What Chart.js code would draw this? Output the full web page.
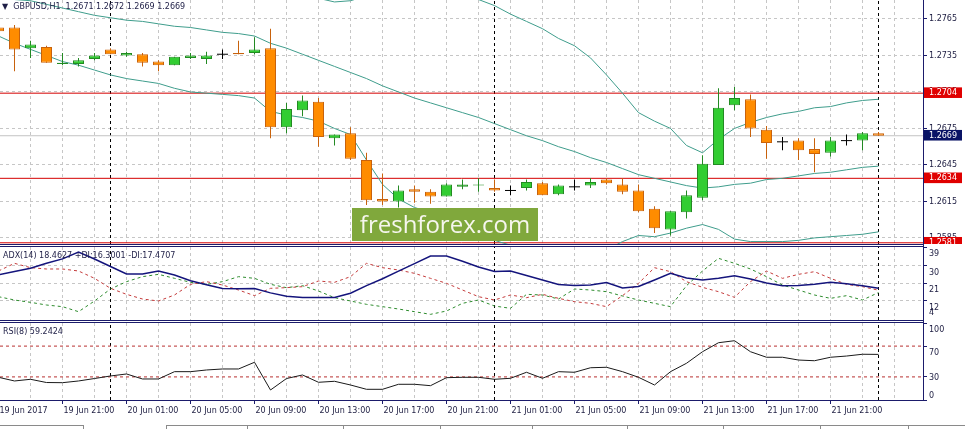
<!DOCTYPE html>
<html><head><meta charset="utf-8"><title>GBPUSD H1</title>
<script src="https://cdn.jsdelivr.net/npm/chart.js@4.4.1/dist/chart.umd.min.js"></script>
<style>
html,body{margin:0;padding:0;background:#fff;overflow:hidden;}
#wrap{position:relative;width:965px;height:429px;background:#fff;font-family:"DejaVu Sans",sans-serif;}
#wrap canvas{position:absolute;left:0;}
.ln{position:absolute;background:#1b1b6b;}
.cap{position:absolute;font-size:8px;line-height:10px;color:#1e1e46;white-space:pre;}
#wm{position:absolute;left:352px;top:208px;width:186px;height:33px;background:#80a83c;color:#f6f6ee;font-family:"Open Sans",sans-serif;font-size:24px;line-height:32px;text-align:center;}
.tab{position:absolute;top:425px;height:8px;border-top:1px solid #8a8a8a;}
.tdiv{position:absolute;top:425px;width:1px;height:6px;background:#8a8a8a;}
</style></head><body>
<div id="wrap">
<canvas id="cMain" width="965" height="244" style="top:0"></canvas>
<canvas id="cAdx" width="965" height="73" style="top:247px"></canvas>
<canvas id="cRsi" width="965" height="106" style="top:323px"></canvas>
<div class="ln" style="left:0;top:244px;width:924px;height:1px"></div>
<div class="ln" style="left:0;top:246px;width:924px;height:1px"></div>
<div class="ln" style="left:0;top:320px;width:924px;height:1px"></div>
<div class="ln" style="left:0;top:322px;width:924px;height:1px"></div>
<div class="ln" style="left:0;top:400px;width:924px;height:1px"></div>
<div class="ln" style="left:923px;top:0;width:1px;height:401px"></div>
<div id="wm">freshforex.com</div>
<div class="cap" id="tMain" style="left:2px;top:2px"></div>
<div class="cap" id="tAdx" style="left:3px;top:251px"></div>
<div class="cap" id="tRsi" style="left:3px;top:327px"></div>
<div class="tab" style="left:0;width:83px;border-right:1px solid #8a8a8a"></div>
<div class="tab" style="left:166px;width:799px;border-left:1px solid #8a8a8a"></div>
<div class="tdiv" style="left:247px"></div><div class="tdiv" style="left:343px"></div>
<div class="tdiv" style="left:440px"></div><div class="tdiv" style="left:532px"></div>
<div class="tdiv" style="left:627px"></div><div class="tdiv" style="left:723px"></div>
<div class="tdiv" style="left:820px"></div><div class="tdiv" style="left:908px"></div>
</div>
<script>
// ---------------- DATA (H1 bars, first bar 19 Jun 2017 17:00) ----------------
const opens  = [1.2758,1.2758,1.2741,1.2742,1.2728,1.2728,1.2732,1.2740,1.2735,1.2736,1.2730,1.2727,1.2733,1.2732,1.2736,1.2737,1.2737,1.2741,1.2676,1.2690,1.2697,1.2667,1.2671,1.2649,1.2617,1.2615,1.2625,1.2623,1.2619,1.2627,1.2628,1.2626,1.2624,1.2626,1.2630,1.2621,1.2627,1.2628,1.2633,1.2629,1.2624,1.2609,1.2592,1.2606,1.2618,1.2645,1.2694,1.2699,1.2674,1.2664,1.2665,1.2658,1.2655,1.2665,1.2665,1.2671];
const highs  = [1.2760,1.2760,1.2747,1.2743,1.2737,1.2733,1.2737,1.2741,1.2738,1.2737,1.2731,1.2734,1.2737,1.2738,1.2740,1.2747,1.2750,1.2757,1.2696,1.2702,1.2700,1.2670,1.2676,1.2655,1.2638,1.2628,1.2628,1.2625,1.2630,1.2633,1.2634,1.2633,1.2628,1.2633,1.2631,1.2629,1.2633,1.2634,1.2634,1.2634,1.2629,1.2611,1.2607,1.2624,1.2653,1.2708,1.2709,1.2703,1.2677,1.2668,1.2667,1.2667,1.2668,1.2670,1.2672,1.2672];
const lows   = [1.2754,1.2722,1.2733,1.2729,1.2727,1.2726,1.2731,1.2736,1.2734,1.2726,1.2722,1.2727,1.2732,1.2728,1.2732,1.2736,1.2736,1.2667,1.2671,1.2685,1.2660,1.2661,1.2649,1.2612,1.2612,1.2610,1.2614,1.2613,1.2619,1.2625,1.2623,1.2623,1.2620,1.2624,1.2620,1.2620,1.2624,1.2626,1.2629,1.2621,1.2606,1.2589,1.2587,1.2601,1.2616,1.2645,1.2690,1.2668,1.2650,1.2657,1.2649,1.2639,1.2652,1.2661,1.2657,1.2669];
const closes = [1.2755,1.2740,1.2744,1.2729,1.2729,1.2731,1.2735,1.2736,1.2737,1.2729,1.2727,1.2734,1.2735,1.2735,1.2736,1.2736,1.2740,1.2676,1.2691,1.2698,1.2668,1.2670,1.2650,1.2616,1.2615,1.2624,1.2623,1.2619,1.2629,1.2629,1.2629,1.2624,1.2624,1.2631,1.2620,1.2628,1.2627,1.2631,1.2630,1.2623,1.2607,1.2593,1.2607,1.2620,1.2646,1.2692,1.2700,1.2675,1.2663,1.2664,1.2657,1.2654,1.2665,1.2665,1.2671,1.2669];

const bbUpper  = [1.2815,1.2818,1.2820,1.2818,1.2818,1.2814,1.2814,1.2813,1.2812,1.2811,1.2810,1.2810,1.2810,1.2808,1.2806,1.2804,1.2802,1.2802,1.2796,1.2788,1.2782,1.2779,1.2780,1.2784,1.2789,1.2793,1.2790,1.2787,1.2785,1.2783,1.2781,1.2776,1.2769,1.2763,1.2757,1.2749,1.2743,1.2733,1.2719,1.2704,1.2688,1.2681,1.2675,1.2661,1.2655,1.2666,1.2675,1.2680,1.2684,1.2687,1.2689,1.2692,1.2693,1.2696,1.2698,1.2699];
const bbMiddle = [1.2783,1.2781,1.2780,1.2777,1.2774,1.2771,1.2768,1.2766,1.2764,1.2763,1.2761,1.2759,1.2758,1.2756,1.2754,1.2753,1.2751,1.2745,1.2741,1.2736,1.2731,1.2726,1.2721,1.2716,1.2710,1.2705,1.2700,1.2696,1.2692,1.2688,1.2684,1.2679,1.2674,1.2669,1.2665,1.2660,1.2656,1.2651,1.2647,1.2642,1.2637,1.2634,1.2631,1.2628,1.2626,1.2627,1.2629,1.2630,1.2633,1.2634,1.2636,1.2638,1.2639,1.2641,1.2643,1.2644];
const bbLower  = [1.2751,1.2745,1.2740,1.2735,1.2730,1.2727,1.2723,1.2719,1.2716,1.2714,1.2712,1.2708,1.2705,1.2704,1.2703,1.2702,1.2700,1.2689,1.2686,1.2684,1.2681,1.2675,1.2670,1.2649,1.2629,1.2617,1.2610,1.2606,1.2600,1.2595,1.2588,1.2583,1.2579,1.2575,1.2572,1.2569,1.2569,1.2571,1.2575,1.2582,1.2587,1.2586,1.2589,1.2593,1.2596,1.2592,1.2584,1.2582,1.2582,1.2582,1.2583,1.2585,1.2586,1.2587,1.2588,1.2590];

const adxMain = [25.37,27.00,28.63,31.17,33.40,36.90,33.35,29.54,25.73,25.68,27.20,25.20,22.27,20.24,18.36,18.20,18.36,16.12,14.39,13.83,13.73,13.73,15.92,19.83,23.29,27.15,31.00,34.90,34.90,32.20,29.30,26.95,27.25,24.97,22.68,20.44,19.83,20.14,21.40,18.60,19.37,22.68,26.08,23.69,22.73,23.59,24.86,23.14,21.10,19.78,19.83,20.54,21.50,20.75,19.78,18.4627];
const plusDI  = [14.20,12.50,11.32,9.96,9.12,6.57,12.00,18.10,21.83,24.37,25.55,23.52,21.49,20.47,21.83,24.37,23.52,20.47,18.78,19.79,17.08,13.69,12.00,10.30,9.12,7.93,6.57,5.22,6.91,10.81,12.50,9.45,8.27,15.39,15.05,13.01,18.10,17.59,16.74,14.54,12.50,10.81,9.12,19.79,27.25,33.69,31.15,28.27,24.37,20.13,17.59,15.05,13.35,14.71,12.50,16.3001];
const minusDI = [27.25,31.15,28.94,28.27,28.27,27.25,23.52,18.44,15.39,13.01,12.00,15.05,20.47,21.83,20.13,17.59,14.71,18.44,18.78,19.28,22.17,21.49,24.37,31.15,28.94,27.76,26.06,23.52,20.98,17.59,14.20,12.50,15.05,13.69,15.39,13.35,11.66,10.81,9.12,14.71,20.98,28.94,26.91,21.83,18.94,16.74,13.86,21.83,27.25,23.52,25.55,26.91,23.52,20.47,19.28,17.4707];
const rsi8    = [29.5,24.7,26.9,22.7,22.5,24.7,27.9,31.2,33.8,27.3,27.3,36.8,36.8,39.0,40.3,40.3,49.0,13.0,27.9,32.5,23.0,24.3,19.5,13.9,13.9,20.4,20.4,18.6,29.0,29.5,29.5,26.9,28.2,36.0,28.2,36.8,36.0,41.9,42.5,36.8,29.5,19.5,36.8,47.7,62.7,74.4,77.0,62.7,55.5,55.5,51.9,51.0,55.5,57.1,59.4,59.2424];

const priceTicks = [1.2585,1.2615,1.2645,1.2675,1.2705,1.2735,1.2765];
const redLevels  = [1.2704,1.2634,1.2581];
const adxTicks   = [39,30,21,12,4];
const rsiTicks   = [100,70,30,0];
const rsiLevels  = [70,30];
const firstBar   = {day:19, hour:17};

// ---------------- LAYOUT / STYLE ----------------
const X_MIN = 0.09375, X_MAX = 57.78125;
const P_MIN = 1.2580,  P_MAX = 1.27806;
const ADX_MIN = 2.34,  ADX_MAX = 39.45;
const FONT = {family:'"DejaVu Sans", sans-serif', size:8};
const AXIS = '#1b1b6b', TXT = '#1c1c40', GRID = '#c6c6c6', NONE = 'rgba(0,0,0,0)';
const BULL_FILL = '#32cd32', BULL_EDGE = '#238a23', BEAR_FILL = '#ff8c00', BEAR_EDGE = '#c8620c', BAND = '#3f9d8c';
Chart.defaults.font.family = FONT.family; Chart.defaults.font.size = 8; Chart.defaults.color = TXT;

const barTimes = opens.map((_, k) => { const h = firstBar.hour + k; return {day: firstBar.day + Math.floor(h / 24), hour: h % 24}; });
function timeLabel(k) {
  if (k < 0 || k >= barTimes.length || k % 1) return '';
  if (k === 0) return firstBar.day + ' Jun 2017';
  const t = barTimes[k];
  return (t.hour % 4 === 1) ? t.day + ' Jun ' + String(t.hour).padStart(2, '0') + ':00' : '';
}
function zeroPad(s) { s.paddingLeft = 0; s.paddingRight = 0; s.paddingTop = 0; s.paddingBottom = 0; }
function separators(lo, hi) {
  const d = [];
  barTimes.forEach((t, k) => { if (t.hour === 0) d.push({x:k, y:lo}, {x:k, y:hi}, {x:k, y:null}); });
  return {type:'line', data:d, borderColor:'#000', borderWidth:1, borderDash:[3,3], pointRadius:0, order:20};
}
function series(arr, color, width, dash, order) {
  return {type:'line', data: arr.map((v, k) => ({x:k, y:v})), borderColor:color, borderWidth:width, borderDash:dash || [], pointRadius:0, tension:0, order:order};
}
function hLine(v, color, dash, order) {
  return {type:'line', data:[{x:X_MIN, y:v}, {x:X_MAX, y:v}], borderColor:color, borderWidth:1, borderDash:dash || [], pointRadius:0, order:order};
}
function xScale(showLabels) {
  return {
    type:'linear', min:X_MIN, max:X_MAX, offset:false, bounds:'data',
    afterBuildTicks: s => { const t = []; for (let k = 0; k <= X_MAX; k += 2) t.push({value:k}); s.ticks = t; },
    afterFit: s => { s.height = showLabels ? 29 : 0; zeroPad(s); },
    ticks: {display:showLabels, autoSkip:false, maxRotation:0, minRotation:0, align:'start', labelOffset:1, padding:2, font:FONT, color:TXT, callback: v => timeLabel(v)},
    grid: {display:true, offset:false, color:GRID, lineWidth:1, drawTicks:showLabels, tickLength:4, tickWidth:1,
           tickColor: c => (c.tick && timeLabel(c.tick.value)) ? AXIS : NONE},
    border: {display:false, dash:[3,3]}
  };
}
// per-label vertical placement of indicator-window axis labels (MetaTrader style)
const baselinePlugin = {
  id:'baselines',
  beforeDraw(chart, args, opts) {
    if (!opts || !opts.list) return;
    const items = chart.scales.y.getLabelItems(chart.chartArea);
    items.forEach((it, i) => {
      if (opts.list[i]) it.options.textBaseline = opts.list[i];
      if (opts.shift && opts.shift[i] && !it._shifted) { it.options.translation[1] += opts.shift[i]; it._shifted = true; }
    });
  }
};
const common = {responsive:false, animation:false, events:[], devicePixelRatio:1, layout:{padding:0, autoPadding:false}};

// ---------------- MAIN PRICE PANEL ----------------
const bodyIdx = opens.map((o, k) => k).filter(k => opens[k] !== closes[k]);
const dojiIdx = opens.map((o, k) => k).filter(k => opens[k] === closes[k]);
const isBull = k => closes[k] > opens[k];
const edgeOf = k => closes[k] > opens[k] ? BULL_EDGE : (closes[k] < opens[k] ? BEAR_EDGE : '#000');
const specials = redLevels.concat([closes[closes.length - 1]]);
const specialColors = redLevels.map(() => '#e00000').concat(['#0a1466']);
const nP = priceTicks.length;

new Chart(document.getElementById('cMain'), {
  type:'line',
  data:{datasets:[
    {type:'bar', data: bodyIdx.map(k => ({x:k, y:[opens[k], closes[k]]})), grouped:false, barThickness:11, inflateAmount:0,
     backgroundColor: bodyIdx.map(k => isBull(k) ? BULL_FILL : BEAR_FILL), borderColor: bodyIdx.map(edgeOf), borderWidth:1, borderSkipped:false, order:0},
    {type:'line', data: dojiIdx.map(k => ({x:k, y:opens[k]})), showLine:false, pointStyle:'line', pointRadius:5.5,
     pointBorderColor:'#000', pointBorderWidth:1, order:1},
    {type:'bar', data: opens.map((o, k) => ({x:k, y:[lows[k], highs[k]]})), grouped:false, barThickness:1, inflateAmount:0,
     backgroundColor: opens.map((o, k) => edgeOf(k)), borderWidth:0, order:2},
    series(bbUpper, BAND, 1, null, 5), series(bbMiddle, BAND, 1, null, 5), series(bbLower, BAND, 1, null, 5),
    ...redLevels.map(v => hLine(v, '#d40000', null, 6)),
    hLine(closes[closes.length - 1], '#c4c4c4', null, 7),
    separators(P_MIN, P_MAX)
  ]},
  options:{...common,
    plugins:{legend:{display:false}, tooltip:{enabled:false}},
    scales:{
      x: xScale(false),
      y: {position:'right', min:P_MIN, max:P_MAX, bounds:'data',
        afterBuildTicks: s => { s.ticks = priceTicks.concat(specials).map(v => ({value:v})); },
        afterFit: s => { s.width = 42; zeroPad(s); },
        ticks:{autoSkip:false, padding:2, font:FONT,
          color: c => c.index >= nP ? '#ffffff' : TXT,
          showLabelBackdrop: c => c.index >= nP,
          backdropColor: c => c.index >= nP ? specialColors[c.index - nP] : NONE,
          backdropPadding:{top:1, bottom:0, left:5, right:5},
          callback: v => Number(v).toFixed(4)},
        grid:{color: c => c.index >= nP ? NONE : GRID, drawTicks:true, tickLength:4, tickColor:AXIS},
        border:{display:false, dash:[3,3]}}
    }
  }
});

// ---------------- ADX PANEL ----------------
new Chart(document.getElementById('cAdx'), {
  type:'line',
  plugins:[baselinePlugin],
  data:{datasets:[
    series(adxMain, '#14147c', 1.5, null, 0),
    series(minusDI, '#c43c3c', 1, [3,3], 1),
    series(plusDI, '#2e8c2e', 1, [3,3], 2),
    separators(ADX_MIN, ADX_MAX)
  ]},
  options:{...common,
    plugins:{legend:{display:false}, tooltip:{enabled:false},
      baselines:{list:['top','top','top','top','bottom'], shift:[2,3,3,3,0]}},
    scales:{
      x: xScale(false),
      y: {position:'right', min:ADX_MIN, max:ADX_MAX, bounds:'data',
        afterBuildTicks: s => { s.ticks = adxTicks.map(v => ({value:v})); },
        afterFit: s => { s.width = 42; zeroPad(s); },
        ticks:{autoSkip:false, padding:2, font:FONT, color:TXT, callback: v => String(v)},
        grid:{color: c => (c.index === 0 || c.index === adxTicks.length - 1) ? NONE : GRID, drawTicks:true, tickLength:4,
              tickColor: c => c.index === adxTicks.length - 1 ? NONE : AXIS},
        border:{display:false, dash:[3,3]}}
    }
  }
});

// ---------------- RSI PANEL ----------------
new Chart(document.getElementById('cRsi'), {
  type:'line',
  plugins:[baselinePlugin],
  data:{datasets:[
    series(rsi8, '#1a1a1a', 1, null, 0),
    ...rsiLevels.map(v => hLine(v, '#b83030', [3,3], 1)),
    separators(0, 100)
  ]},
  options:{...common,
    plugins:{legend:{display:false}, tooltip:{enabled:false},
      baselines:{list:['top','top','middle','bottom'], shift:[3,3,1,0]}},
    scales:{
      x: xScale(true),
      y: {position:'right', min:0, max:100, bounds:'data',
        afterBuildTicks: s => { s.ticks = rsiTicks.map(v => ({value:v})); },
        afterFit: s => { s.width = 42; zeroPad(s); },
        ticks:{autoSkip:false, padding:2, font:FONT, color:TXT, callback: v => String(v)},
        grid:{drawOnChartArea:false, drawTicks:true, tickLength:4, tickColor:AXIS, color:NONE},
        border:{display:false}}
    }
  }
});

// ---------------- CAPTIONS ----------------
const L = closes.length - 1;
document.getElementById('tMain').innerHTML = '<span style="font-size:8px">\u25BC</span>  GBPUSD,H1  ' +
  [opens[L], highs[L], lows[L], closes[L]].map(v => v.toFixed(4)).join(' ');
document.getElementById('tAdx').textContent = 'ADX(14) ' + adxMain[L].toFixed(4) + ' +DI:' + plusDI[L].toFixed(4) + ' -DI:' + minusDI[L].toFixed(4);
document.getElementById('tRsi').textContent = 'RSI(8) ' + rsi8[L].toFixed(4);
</script>
</body></html>
